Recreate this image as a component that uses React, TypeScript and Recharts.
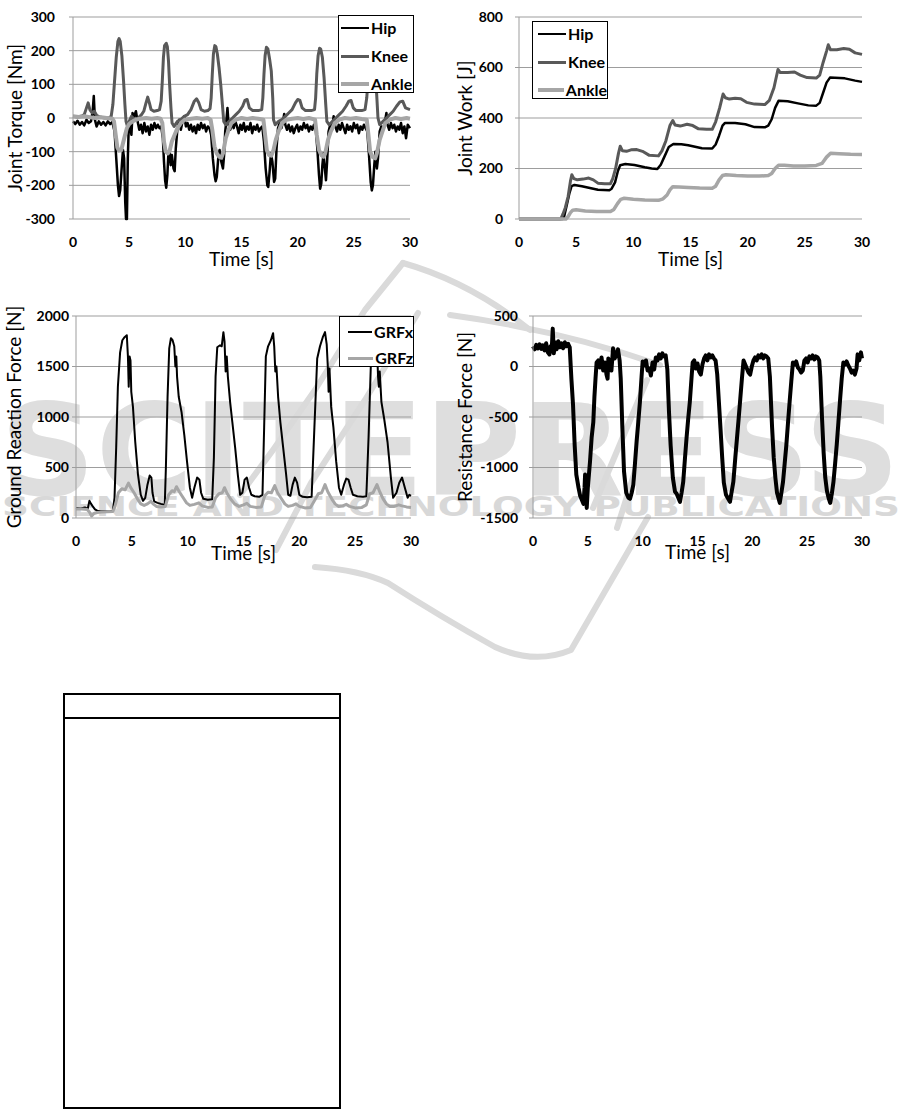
import React from "react";
import { LineChart, Line, XAxis, YAxis, CartesianGrid, Legend } from "recharts";

type Pt = [number, number];

// axis ticks
const timeTicks = [0, 5, 10, 15, 20, 25, 30];
const torqueTicks = [-300, -200, -100, 0, 100, 200, 300];
const workTicks = [0, 200, 400, 600, 800];
const grfTicks = [0, 500, 1000, 1500, 2000];
const resistTicks = [-1500, -1000, -500, 0, 500];

// joint torque [Nm] as [time s, value]
const hipTorque: Pt[] = [
  [0, -10], [0.2, -18], [0.4, -8], [0.6, -20], [0.8, -12], [1.0, -22], [1.2, -5], [1.4, -15], [1.6, -10], [1.75, 20], [1.85, 65], [1.95, -5],
  [2.1, -25], [2.3, -10], [2.5, -20], [2.7, -12], [2.9, -22], [3.1, -10], [3.3, -18], [3.5, -12],
  [3.7, -40], [3.85, -120], [4.0, -200], [4.1, -232], [4.2, -215], [4.35, -140], [4.45, -95], [4.55, -120], [4.65, -250], [4.72, -300], [4.8, -300],
  [4.88, -120], [4.95, -40], [5.05, -20], [5.2, -50], [5.3, 15], [5.45, 5], [5.6, 20], [5.75, -10], [5.9, -35], [6.05, -20], [6.2, -45], [6.35, -15],
  [6.5, -40], [6.65, -25], [6.8, -50], [6.95, -20], [7.1, -35], [7.25, -15], [7.4, -30], [7.55, -20], [7.7, -30], [7.85, -25],
  [8.0, -60], [8.1, -130], [8.2, -185], [8.3, -207], [8.4, -170], [8.5, -100], [8.6, -95], [8.7, -140], [8.8, -110], [8.95, -150], [9.05, -158],
  [9.15, -90], [9.3, -30], [9.45, -5], [9.6, -35], [9.75, -10], [9.9, 5], [10.05, -25], [10.2, -15], [10.35, -35], [10.5, -20], [10.65, -40],
  [10.8, -25], [10.95, -45], [11.1, -20], [11.25, -35], [11.4, -15], [11.55, -30], [11.7, -20], [11.85, -40], [12.0, -25], [12.15, -30], [12.3, -50],
  [12.45, -120], [12.6, -170], [12.7, -188], [12.8, -175], [12.95, -110], [13.05, -95], [13.2, -130], [13.35, -150], [13.45, -110], [13.55, -40],
  [13.65, -10], [13.75, 30], [13.85, -20], [14.0, -35], [14.15, -15], [14.3, -30], [14.45, -10], [14.6, -25], [14.75, -45], [14.9, -20], [15.05, -35],
  [15.2, -15], [15.35, -40], [15.5, -25], [15.65, -35], [15.8, -15], [15.95, -45], [16.1, -25], [16.25, -35], [16.4, -20], [16.55, -40], [16.7, -30], [16.85, -25],
  [17.0, -70], [17.15, -150], [17.3, -200], [17.38, -205], [17.5, -160], [17.62, -105], [17.75, -130], [17.9, -190], [18.0, -180], [18.12, -90],
  [18.25, -30], [18.4, -15], [18.55, -30], [18.7, -10], [18.8, 12], [18.9, -20], [19.05, -35], [19.2, -20], [19.35, -40], [19.5, -25], [19.65, -45],
  [19.8, -30], [19.95, -20], [20.1, -40], [20.25, -25], [20.4, -35], [20.55, -15], [20.7, -30], [20.85, -20], [21.0, -40], [21.15, -25], [21.3, -35],
  [21.45, -20], [21.6, -30], [21.75, -90], [21.9, -170], [22.0, -210], [22.1, -195], [22.2, -140], [22.3, -105], [22.42, -150], [22.52, -185],
  [22.62, -130], [22.75, -40], [22.9, -20], [23.05, -35], [23.2, 5], [23.35, -25], [23.5, -40], [23.65, -20], [23.8, -35], [23.95, -15], [24.1, -30],
  [24.25, -45], [24.4, -20], [24.55, -35], [24.7, -25], [24.85, -40], [25.0, -15], [25.15, -30], [25.3, -20], [25.45, -45], [25.6, -25], [25.75, -35],
  [25.9, -20], [26.05, -30], [26.2, -40], [26.35, -110], [26.5, -190], [26.6, -215], [26.7, -200], [26.82, -140], [26.92, -100], [27.05, -150],
  [27.15, -120], [27.3, -40], [27.45, -25], [27.6, -35], [27.75, -15], [27.9, 15], [28.0, -20], [28.15, -35], [28.3, -15], [28.45, -30], [28.6, -20],
  [28.75, -40], [28.9, -25], [29.05, -35], [29.2, -15], [29.35, -45], [29.5, -25], [29.65, -60], [29.8, -20], [30, -30],
];

const kneeTorque: Pt[] = [
  [0, 5], [0.4, 3], [0.8, 6], [1.0, 10], [1.2, 30], [1.35, 45], [1.5, 25], [1.7, 15], [1.9, 20], [2.1, 8], [2.4, 3], [2.8, 0], [3.2, 0], [3.4, 5],
  [3.55, 40], [3.7, 110], [3.85, 180], [4.0, 228], [4.1, 236], [4.2, 228], [4.35, 185], [4.5, 110], [4.62, 40], [4.72, -10], [4.85, -25], [5.0, -10],
  [5.2, 5], [5.5, -5], [5.8, 0], [6.1, 10], [6.3, 20], [6.5, 45], [6.65, 62], [6.8, 45], [6.95, 25], [7.2, 20], [7.5, 22], [7.7, 25],
  [7.85, 50], [7.95, 110], [8.05, 180], [8.15, 215], [8.3, 222], [8.4, 212], [8.5, 170], [8.6, 100], [8.72, 30], [8.82, -15], [9.0, -25],
  [9.3, -10], [9.6, -5], [9.9, 5], [10.2, 10], [10.5, 25], [10.8, 50], [11.0, 57], [11.2, 45], [11.4, 25], [11.7, 20], [12.0, 22], [12.2, 28],
  [12.3, 60], [12.4, 130], [12.5, 190], [12.62, 215], [12.72, 212], [12.85, 190], [13.0, 150], [13.15, 100], [13.3, 40], [13.42, -10], [13.6, -20],
  [13.9, -10], [14.2, 0], [14.5, 10], [14.8, 20], [15.1, 35], [15.3, 52], [15.5, 55], [15.7, 30], [16.0, 22], [16.5, 22], [16.8, 25],
  [16.9, 60], [17.0, 130], [17.1, 185], [17.22, 210], [17.35, 205], [17.5, 175], [17.65, 140], [17.78, 60], [17.85, -5], [18.0, -20],
  [18.3, -10], [18.6, -5], [18.9, 5], [19.2, 15], [19.5, 25], [19.8, 45], [20.0, 55], [20.2, 52], [20.4, 30], [20.7, 22], [21.2, 22], [21.5, 25],
  [21.6, 60], [21.7, 130], [21.82, 185], [21.95, 207], [22.05, 205], [22.2, 180], [22.35, 120], [22.5, 40], [22.6, -10], [22.8, -20],
  [23.1, -10], [23.4, 0], [23.7, 10], [24.0, 20], [24.3, 35], [24.55, 50], [24.75, 52], [24.95, 30], [25.2, 22], [25.7, 22], [26.0, 25],
  [26.15, 60], [26.3, 130], [26.45, 185], [26.6, 205], [26.75, 195], [26.9, 150], [27.05, 60], [27.15, 0], [27.3, -20],
  [27.6, -10], [27.9, 0], [28.2, 10], [28.5, 20], [28.8, 35], [29.1, 48], [29.35, 50], [29.6, 30], [30, 25],
];

const ankleTorque: Pt[] = [
  [0, 5], [0.5, 3], [1.0, 5], [1.5, 2], [2.0, 0], [2.5, 2], [3.0, 0], [3.5, -2], [3.65, -10], [3.8, -50], [3.95, -88], [4.1, -97], [4.3, -95],
  [4.45, -75], [4.6, -55], [4.8, -30], [5.0, -18], [5.3, -10], [5.6, -5], [6.0, -2], [6.5, 0], [7.0, -2], [7.5, 0], [7.8, -2],
  [7.95, -15], [8.1, -70], [8.25, -100], [8.45, -105], [8.6, -98], [8.8, -70], [9.05, -50], [9.3, -30], [9.6, -15], [9.95, -5], [10.5, -2],
  [11, 0], [11.5, -2], [12, 0], [12.25, -5], [12.4, -35], [12.6, -85], [12.8, -105], [13.0, -115], [13.2, -118], [13.35, -105], [13.6, -60],
  [13.85, -35], [14.1, -15], [14.5, -5], [15, 0], [15.5, -3], [16, 0], [16.5, -2], [16.95, -5], [17.1, -50], [17.25, -95], [17.45, -110],
  [17.65, -112], [17.85, -95], [18.05, -65], [18.3, -40], [18.6, -15], [19.0, -5], [19.5, -2], [20, 0], [20.5, -3], [21, 0], [21.55, -5],
  [21.7, -50], [21.9, -95], [22.1, -110], [22.3, -115], [22.45, -105], [22.7, -65], [22.95, -40], [23.3, -15], [23.7, -5], [24.2, 0],
  [24.7, -2], [25.2, 0], [25.7, -3], [26.15, -5], [26.3, -50], [26.45, -100], [26.65, -115], [26.9, -120], [27.05, -105], [27.3, -65],
  [27.55, -40], [27.8, -15], [28.2, -5], [28.7, 0], [29.2, -3], [29.7, 0], [30, -2],
];

// joint work [J]
const hipWork: Pt[] = [
  [0, 0], [3.8, 0], [3.95, 10], [4.15, 50], [4.4, 100], [4.6, 130], [4.85, 135], [5.5, 130], [6.3, 122], [6.9, 116], [7.9, 114], [8.1, 120],
  [8.4, 145], [8.65, 190], [8.85, 213], [9.3, 218], [10.1, 214], [11, 205], [11.6, 200], [12.1, 198], [12.4, 215], [12.7, 245], [13.1, 285],
  [13.5, 297], [14.2, 296], [14.8, 292], [15.5, 285], [16, 280], [16.9, 279], [17.2, 295], [17.5, 330], [17.8, 370], [18, 380], [18.9, 380],
  [19.8, 375], [20.6, 364], [21.5, 363], [21.8, 370], [22.1, 395], [22.4, 440], [22.7, 468], [23.5, 466], [24.4, 458], [25.3, 450], [26, 449],
  [26.3, 460], [26.6, 500], [26.9, 540], [27.2, 560], [28.5, 557], [29.4, 548], [30, 543],
];

const kneeWork: Pt[] = [
  [0, 0], [3.65, 0], [3.85, 20], [4.05, 45], [4.3, 90], [4.5, 150], [4.62, 175], [4.8, 160], [5.1, 155], [5.6, 158], [6.1, 162], [6.5, 155],
  [6.9, 142], [7.5, 140], [8.0, 140], [8.2, 160], [8.45, 200], [8.7, 260], [8.85, 288], [9.05, 270], [9.4, 268], [9.8, 274], [10.3, 275],
  [10.8, 268], [11.4, 252], [12.2, 250], [12.5, 270], [12.85, 310], [13.2, 370], [13.45, 390], [13.65, 372], [14.1, 368], [14.7, 375],
  [15.2, 370], [15.7, 357], [16.4, 355], [16.9, 355], [17.2, 385], [17.55, 440], [17.85, 495], [18.05, 480], [18.4, 475], [18.9, 478],
  [19.4, 476], [19.9, 462], [20.6, 455], [21.5, 453], [21.9, 470], [22.3, 520], [22.65, 592], [22.85, 580], [23.5, 580], [24.1, 582],
  [24.6, 570], [25.2, 560], [26.0, 558], [26.3, 570], [26.6, 620], [26.9, 665], [27.05, 690], [27.25, 670], [27.8, 670], [28.4, 675],
  [28.9, 672], [29.4, 658], [30, 652],
];

const ankleWork: Pt[] = [
  [0, 0], [4.1, 0], [4.3, 10], [4.5, 25], [4.7, 35], [5.0, 37], [5.8, 32], [6.8, 30], [8.0, 30], [8.3, 38], [8.6, 60], [8.9, 78], [9.2, 82],
  [10.0, 78], [11.0, 75], [12.2, 74], [12.6, 80], [12.95, 95], [13.2, 115], [13.45, 128], [14.0, 127], [14.8, 125], [15.8, 123], [16.9, 122],
  [17.2, 130], [17.5, 155], [17.8, 172], [18.1, 175], [19.0, 172], [20.0, 170], [21.0, 170], [21.8, 172], [22.1, 180], [22.4, 200], [22.7, 213],
  [23.2, 213], [24.0, 210], [25.0, 210], [26.0, 212], [26.5, 220], [26.9, 245], [27.25, 260], [28.0, 258], [29.0, 256], [30, 255],
];

// ground reaction force [N]
const grfX: Pt[] = [
  [0, 100], [0.4, 95], [0.8, 105], [1.05, 90], [1.2, 170], [1.35, 140], [1.5, 115], [1.7, 85], [1.9, 72], [2.2, 68], [2.6, 66], [3.0, 64],
  [3.3, 70], [3.45, 200], [3.6, 700], [3.75, 1300], [3.95, 1640], [4.15, 1760], [4.35, 1790], [4.55, 1810], [4.65, 1600], [4.72, 1300],
  [4.8, 1600], [4.88, 1560], [4.95, 1250], [5.1, 1100], [5.3, 760], [5.55, 430], [5.8, 230], [6.0, 170], [6.2, 200], [6.4, 330], [6.6, 420],
  [6.75, 400], [6.85, 250], [7.0, 165], [7.3, 150], [7.6, 140], [7.95, 130], [8.05, 500], [8.2, 1200], [8.35, 1680], [8.5, 1780], [8.65, 1760],
  [8.8, 1700], [8.9, 1500], [8.98, 1600], [9.05, 1400], [9.2, 1200], [9.45, 1050], [9.7, 820], [9.95, 550], [10.2, 300], [10.4, 200],
  [10.6, 300], [10.85, 400], [11.05, 380], [11.2, 250], [11.4, 190], [11.8, 180], [12.2, 185], [12.35, 600], [12.5, 1400], [12.65, 1690],
  [12.9, 1710], [13.05, 1700], [13.2, 1840], [13.3, 1750], [13.4, 1450], [13.5, 1600], [13.6, 1400], [13.8, 1150], [14.0, 950], [14.25, 700],
  [14.5, 420], [14.7, 230], [14.9, 250], [15.1, 380], [15.3, 400], [15.5, 300], [15.7, 230], [16.0, 215], [16.4, 210], [16.7, 230],
  [16.85, 900], [17.0, 1600], [17.2, 1700], [17.45, 1760], [17.65, 1830], [17.75, 1700], [17.85, 1450], [17.95, 1500], [18.1, 1200],
  [18.3, 950], [18.55, 700], [18.8, 450], [19.0, 230], [19.2, 220], [19.4, 330], [19.6, 400], [19.8, 350], [20.0, 230], [20.3, 210],
  [20.7, 205], [21.1, 210], [21.35, 900], [21.6, 1580], [21.85, 1700], [22.1, 1790], [22.3, 1840], [22.45, 1720], [22.55, 1500],
  [22.62, 1250], [22.7, 1480], [22.85, 1100], [23.05, 900], [23.3, 560], [23.55, 300], [23.75, 230], [24.0, 330], [24.2, 390], [24.4, 380],
  [24.6, 300], [24.8, 230], [25.2, 215], [25.7, 210], [26.0, 215], [26.2, 800], [26.4, 1500], [26.6, 1750], [26.8, 1800], [26.95, 1700],
  [27.05, 1400], [27.12, 1300], [27.2, 1450], [27.35, 1150], [27.6, 980], [27.9, 750], [28.2, 400], [28.4, 200], [28.7, 250], [28.95, 350],
  [29.2, 400], [29.45, 300], [29.7, 200], [29.85, 230], [30, 220],
];

const grfZ: Pt[] = [
  [0, 90], [0.5, 88], [1.0, 85], [1.2, 60], [1.4, 20], [1.6, 45], [1.9, 55], [2.3, 60], [2.8, 62], [3.3, 65], [3.5, 120], [3.8, 250], [4.1, 290],
  [4.4, 280], [4.7, 345], [4.9, 300], [5.2, 250], [5.5, 190], [5.8, 140], [6.1, 125], [6.4, 140], [6.7, 165], [6.9, 140], [7.2, 115], [7.6, 110],
  [8.0, 115], [8.3, 230], [8.6, 270], [8.8, 260], [9.0, 310], [9.25, 260], [9.6, 200], [9.9, 150], [10.2, 125], [10.6, 135], [11.0, 150],
  [11.3, 120], [11.8, 105], [12.2, 110], [12.5, 200], [12.8, 240], [13.1, 250], [13.3, 300], [13.55, 240], [13.9, 180], [14.2, 140], [14.6, 115],
  [15.0, 130], [15.3, 145], [15.6, 115], [16.1, 105], [16.6, 110], [16.9, 220], [17.2, 255], [17.5, 250], [17.8, 320], [18.05, 250], [18.4, 190],
  [18.7, 140], [19.0, 115], [19.4, 125], [19.7, 140], [20.0, 115], [20.5, 100], [21.0, 105], [21.4, 180], [21.7, 240], [22.0, 250], [22.3, 330],
  [22.55, 260], [22.9, 190], [23.2, 140], [23.5, 115], [23.9, 120], [24.2, 135], [24.5, 115], [25.0, 100], [25.6, 105], [26.0, 130], [26.3, 240],
  [26.6, 250], [26.95, 330], [27.2, 260], [27.5, 190], [27.8, 140], [28.1, 115], [28.5, 115], [28.9, 130], [29.2, 120], [29.6, 110], [30, 105],
];

// resistance force [N]
const resistance: Pt[] = [
  [0, 200], [0.15, 170], [0.3, 215], [0.45, 180], [0.6, 220], [0.75, 175], [0.9, 210], [1.05, 160], [1.2, 230], [1.35, 140], [1.5, 120],
  [1.6, 200], [1.7, 150], [1.8, 375], [1.9, 130], [2.0, 240], [2.15, 170], [2.3, 250], [2.45, 190], [2.6, 230], [2.75, 180], [2.9, 240],
  [3.05, 200], [3.2, 225], [3.35, 190], [3.5, -120], [3.65, -380], [3.8, -780], [3.95, -1070], [4.15, -1200], [4.3, -1280], [4.45, -1320],
  [4.6, -1360], [4.7, -1200], [4.75, -1070], [4.82, -1250], [4.9, -1400], [5.0, -1200], [5.2, -940], [5.35, -700], [5.5, -550], [5.6, -300],
  [5.7, -120], [5.8, 40], [5.95, 60], [6.1, -10], [6.25, 90], [6.4, -40], [6.55, 40], [6.7, -80], [6.8, -120], [6.87, 80], [7.0, 30],
  [7.15, -40], [7.3, 180], [7.45, 80], [7.6, 120], [7.75, 170], [7.9, 60], [8.0, -120], [8.15, -610], [8.3, -1040], [8.5, -1250],
  [8.7, -1300], [8.85, -1310], [9.0, -1250], [9.15, -1170], [9.3, -960], [9.45, -740], [9.6, -550], [9.75, -350], [9.9, -100], [10.0, 50],
  [10.15, 10], [10.3, 60], [10.45, -40], [10.6, -20], [10.75, -90], [10.9, 40], [11.05, -30], [11.2, 90], [11.35, 60], [11.5, 120],
  [11.65, 80], [11.8, 130], [11.95, 100], [12.1, 110], [12.25, -30], [12.4, -450], [12.55, -780], [12.75, -1100], [12.95, -1240],
  [13.1, -1260], [13.25, -1300], [13.4, -1340], [13.55, -1250], [13.7, -1140], [13.85, -920], [14.0, -710], [14.15, -520], [14.3, -350],
  [14.45, -120], [14.56, 40], [14.7, 60], [14.85, -20], [15.0, 30], [15.15, -50], [15.3, -80], [15.45, 20], [15.6, 80], [15.75, 110],
  [15.9, 60], [16.05, 120], [16.2, 90], [16.35, 110], [16.5, 80], [16.65, 60], [16.8, -80], [16.95, -350], [17.1, -620], [17.25, -900],
  [17.4, -1150], [17.6, -1270], [17.8, -1310], [17.96, -1340], [18.1, -1250], [18.27, -1140], [18.45, -900], [18.6, -710], [18.75, -520],
  [18.9, -320], [19.05, -120], [19.2, 60], [19.35, 20], [19.5, -20], [19.65, -60], [19.8, -80], [19.95, 0], [20.1, 60], [20.25, 90],
  [20.4, 60], [20.55, 110], [20.7, 90], [20.85, 120], [21.0, 80], [21.15, 110], [21.3, 100], [21.45, 80], [21.6, -100], [21.8, -600],
  [21.95, -900], [22.1, -1100], [22.25, -1250], [22.4, -1310], [22.5, -1350], [22.65, -1250], [22.8, -1140], [22.95, -960], [23.1, -780],
  [23.25, -560], [23.4, -350], [23.55, -150], [23.7, 40], [23.85, 20], [24.0, 50], [24.15, -10], [24.3, -30], [24.45, -60], [24.6, -40],
  [24.75, 60], [24.9, 80], [25.05, 40], [25.2, 100], [25.35, 80], [25.5, 110], [25.65, 70], [25.8, 100], [25.95, 90], [26.1, 60],
  [26.2, -100], [26.35, -500], [26.5, -850], [26.65, -1100], [26.8, -1230], [26.95, -1300], [27.1, -1350], [27.25, -1260], [27.4, -1140],
  [27.55, -960], [27.7, -770], [27.85, -550], [28.0, -330], [28.15, -120], [28.3, 40], [28.45, 20], [28.6, 50], [28.75, 10], [28.9, -20],
  [29.05, -60], [29.2, -40], [29.35, -80], [29.5, -20], [29.6, 120], [29.75, 60], [29.9, 140], [30, 80],
];

const GRID = "#9d9d9d";
const FONT = "Lato, 'Open Sans', sans-serif";

type Series = { name: string; data: Pt[]; color: string; width: number };
type Rect = { left: number; top: number; right: number; bottom: number };
type LegendBox = { x: number; y: number; w: number; h: number; lineLeft: number; rowGap: number; padTop: number };

const toRows = (pts: Pt[]) => pts.map(([t, v]) => ({ t, v }));

function BoxLegend({ series, lineLeft, rowGap, padTop }: { series: Series[]; lineLeft: number; rowGap: number; padTop: number }) {
  return (
    <div style={{ border: "1px solid #000", background: "#fff", boxSizing: "border-box", width: "100%", height: "100%", paddingTop: padTop }}>
      {series.map((s) => (
        <div key={s.name} style={{ display: "flex", alignItems: "center", height: 24, marginBottom: rowGap, paddingLeft: lineLeft }}>
          <span style={{ display: "inline-block", width: 28, height: s.width, background: s.color }} />
          <span style={{ marginLeft: 2, fontFamily: FONT, fontWeight: 700, fontSize: 16, color: "#000", lineHeight: "24px" }}>{s.name}</span>
        </div>
      ))}
    </div>
  );
}

type PanelProps = {
  box: { left: number; top: number; w: number; h: number };
  plot: Rect;
  yTicks: number[];
  yTitle: string;
  titleX: number;
  xTitleBase: number;
  yTickGap: number;
  series: Series[];
  legend?: LegendBox;
};

function Panel({ box, plot, yTicks, yTitle, titleX, xTitleBase, yTickGap, series, legend }: PanelProps) {
  const margin = { top: plot.top - box.top, right: box.left + box.w - plot.right, left: 0, bottom: 0 };
  const yWidth = plot.left - box.left;
  const xHeight = box.top + box.h - plot.bottom;
  const tick = { fill: "#000", fontSize: 14, fontWeight: 700, fontFamily: FONT };
  const titleStyle = { fontSize: 19, fontFamily: FONT, fill: "#000", textAnchor: "middle" as const };
  return (
    <div style={{ position: "absolute", left: box.left, top: box.top }}>
      <LineChart width={box.w} height={box.h} margin={margin}>
        <CartesianGrid vertical={false} stroke={GRID} />
        <XAxis
          type="number"
          dataKey="t"
          domain={[0, 30]}
          ticks={timeTicks}
          interval={0}
          axisLine={false}
          tickLine={false}
          tickSize={6}
          tickMargin={12}
          height={xHeight}
          tick={tick}
          label={{ value: "Time [s]", position: "insideBottom", offset: plot.bottom + xHeight - xTitleBase, style: titleStyle }}
        />
        <YAxis
          type="number"
          domain={[yTicks[0], yTicks[yTicks.length - 1]]}
          ticks={yTicks}
          interval={0}
          width={yWidth}
          axisLine={{ stroke: GRID }}
          tickLine={{ stroke: GRID }}
          tickSize={4}
          tickMargin={yTickGap - 4}
          tick={tick}
          label={{ value: yTitle, angle: -90, position: "insideLeft", offset: titleX - box.left, style: titleStyle }}
        />
        {series.map((s) => (
          <Line
            key={s.name}
            data={toRows(s.data)}
            dataKey="v"
            name={s.name}
            type="linear"
            stroke={s.color}
            strokeWidth={s.width}
            strokeLinejoin="round"
            dot={false}
            activeDot={false}
            isAnimationActive={false}
          />
        ))}
        {legend && (
          <Legend
            layout="vertical"
            align="center"
            verticalAlign="middle"
            wrapperStyle={{ left: legend.x - box.left, top: legend.y - box.top, width: legend.w, height: legend.h }}
            content={() => <BoxLegend series={series} lineLeft={legend.lineLeft} rowGap={legend.rowGap} padTop={legend.padTop} />}
          />
        )}
      </LineChart>
    </div>
  );
}

function Watermark() {
  const c = "#dadada";
  return (
    <svg width={904} height={1111} style={{ position: "absolute", left: 0, top: 0 }}>
      <text x={0} y={495} fontFamily="'DejaVu Sans', sans-serif" fontWeight={700} fontSize={128} fill="#dedede" textLength={900} lengthAdjust="spacingAndGlyphs">
        SCITEPRESS
      </text>
      <text x={2} y={516} fontFamily="'DejaVu Sans', sans-serif" fontWeight={700} fontSize={27} fill="#d8d8d8" textLength={898} lengthAdjust="spacingAndGlyphs">
        SCIENCE AND TECHNOLOGY PUBLICATIONS
      </text>
      <g fill="none" stroke={c} strokeWidth={6} strokeLinecap="round" strokeLinejoin="round">
        <path d="M 403 263 Q 470 282 530 330" />
        <path d="M 450 315 Q 560 330 660 365" />
        <path d="M 403 263 L 365 310 L 315 390 L 273 450 L 240 495" />
        <path d="M 418 313 L 365 400 L 311 483 L 276 550" />
        <path d="M 315 567 Q 360 570 388 583 Q 441 617 495 647 Q 535 665 571 650 L 648 517" />
        <path d="M 647 380 L 593 508" />
        <path d="M 637 465 L 617 528" />
      </g>
    </svg>
  );
}

const torqueSeries: Series[] = [
  { name: "Hip", data: hipTorque, color: "#000000", width: 2.5 },
  { name: "Knee", data: kneeTorque, color: "#595959", width: 3 },
  { name: "Ankle", data: ankleTorque, color: "#a6a6a6", width: 4 },
];
const workSeries: Series[] = [
  { name: "Hip", data: hipWork, color: "#000000", width: 2.5 },
  { name: "Knee", data: kneeWork, color: "#595959", width: 3 },
  { name: "Ankle", data: ankleWork, color: "#a6a6a6", width: 3.5 },
];
const grfSeries: Series[] = [
  { name: "GRFx", data: grfX, color: "#000000", width: 2 },
  { name: "GRFz", data: grfZ, color: "#a6a6a6", width: 3 },
];
const resistSeries: Series[] = [{ name: "Resistance", data: resistance, color: "#000000", width: 4 }];

export default function App() {
  return (
    <div style={{ position: "absolute", left: 0, top: 0, width: 904, height: 1111, background: "#fff", overflow: "hidden", fontFamily: FONT }}>
      <Watermark />
      <Panel
        box={{ left: 0, top: 0, w: 450, h: 275 }}
        plot={{ left: 73, top: 17, right: 410, bottom: 219 }}
        yTicks={torqueTicks}
        yTitle="Joint Torque [Nm]"
        titleX={15}
        xTitleBase={266}
        yTickGap={18}
        series={torqueSeries}
        legend={{ x: 338, y: 15, w: 76, h: 78, lineLeft: 2, rowGap: 4, padTop: 0 }}
      />
      <Panel
        box={{ left: 450, top: 0, w: 454, h: 275 }}
        plot={{ left: 519, top: 17, right: 862, bottom: 219 }}
        yTicks={workTicks}
        yTitle="Joint Work [J]"
        titleX={465}
        xTitleBase={266}
        yTickGap={16}
        series={workSeries}
        legend={{ x: 532, y: 21, w: 76, h: 78, lineLeft: 5, rowGap: 4, padTop: 0 }}
      />
      <Panel
        box={{ left: 0, top: 290, w: 450, h: 275 }}
        plot={{ left: 76, top: 316, right: 411, bottom: 518 }}
        yTicks={grfTicks}
        yTitle="Ground Reaction Force [N]"
        titleX={14}
        xTitleBase={560}
        yTickGap={7}
        series={grfSeries}
        legend={{ x: 339, y: 316, w: 75, h: 51, lineLeft: 8, rowGap: 2, padTop: 3 }}
      />
      <Panel
        box={{ left: 450, top: 290, w: 454, h: 275 }}
        plot={{ left: 533, top: 316, right: 862, bottom: 518 }}
        yTicks={resistTicks}
        yTitle="Resistance Force [N]"
        titleX={465}
        xTitleBase={559}
        yTickGap={15}
        series={resistSeries}
      />
      <div style={{ position: "absolute", left: 63, top: 693, width: 278, height: 416, border: "2px solid #000", boxSizing: "border-box" }}>
        <div style={{ height: 22, borderBottom: "2px solid #000" }} />
      </div>
    </div>
  );
}
